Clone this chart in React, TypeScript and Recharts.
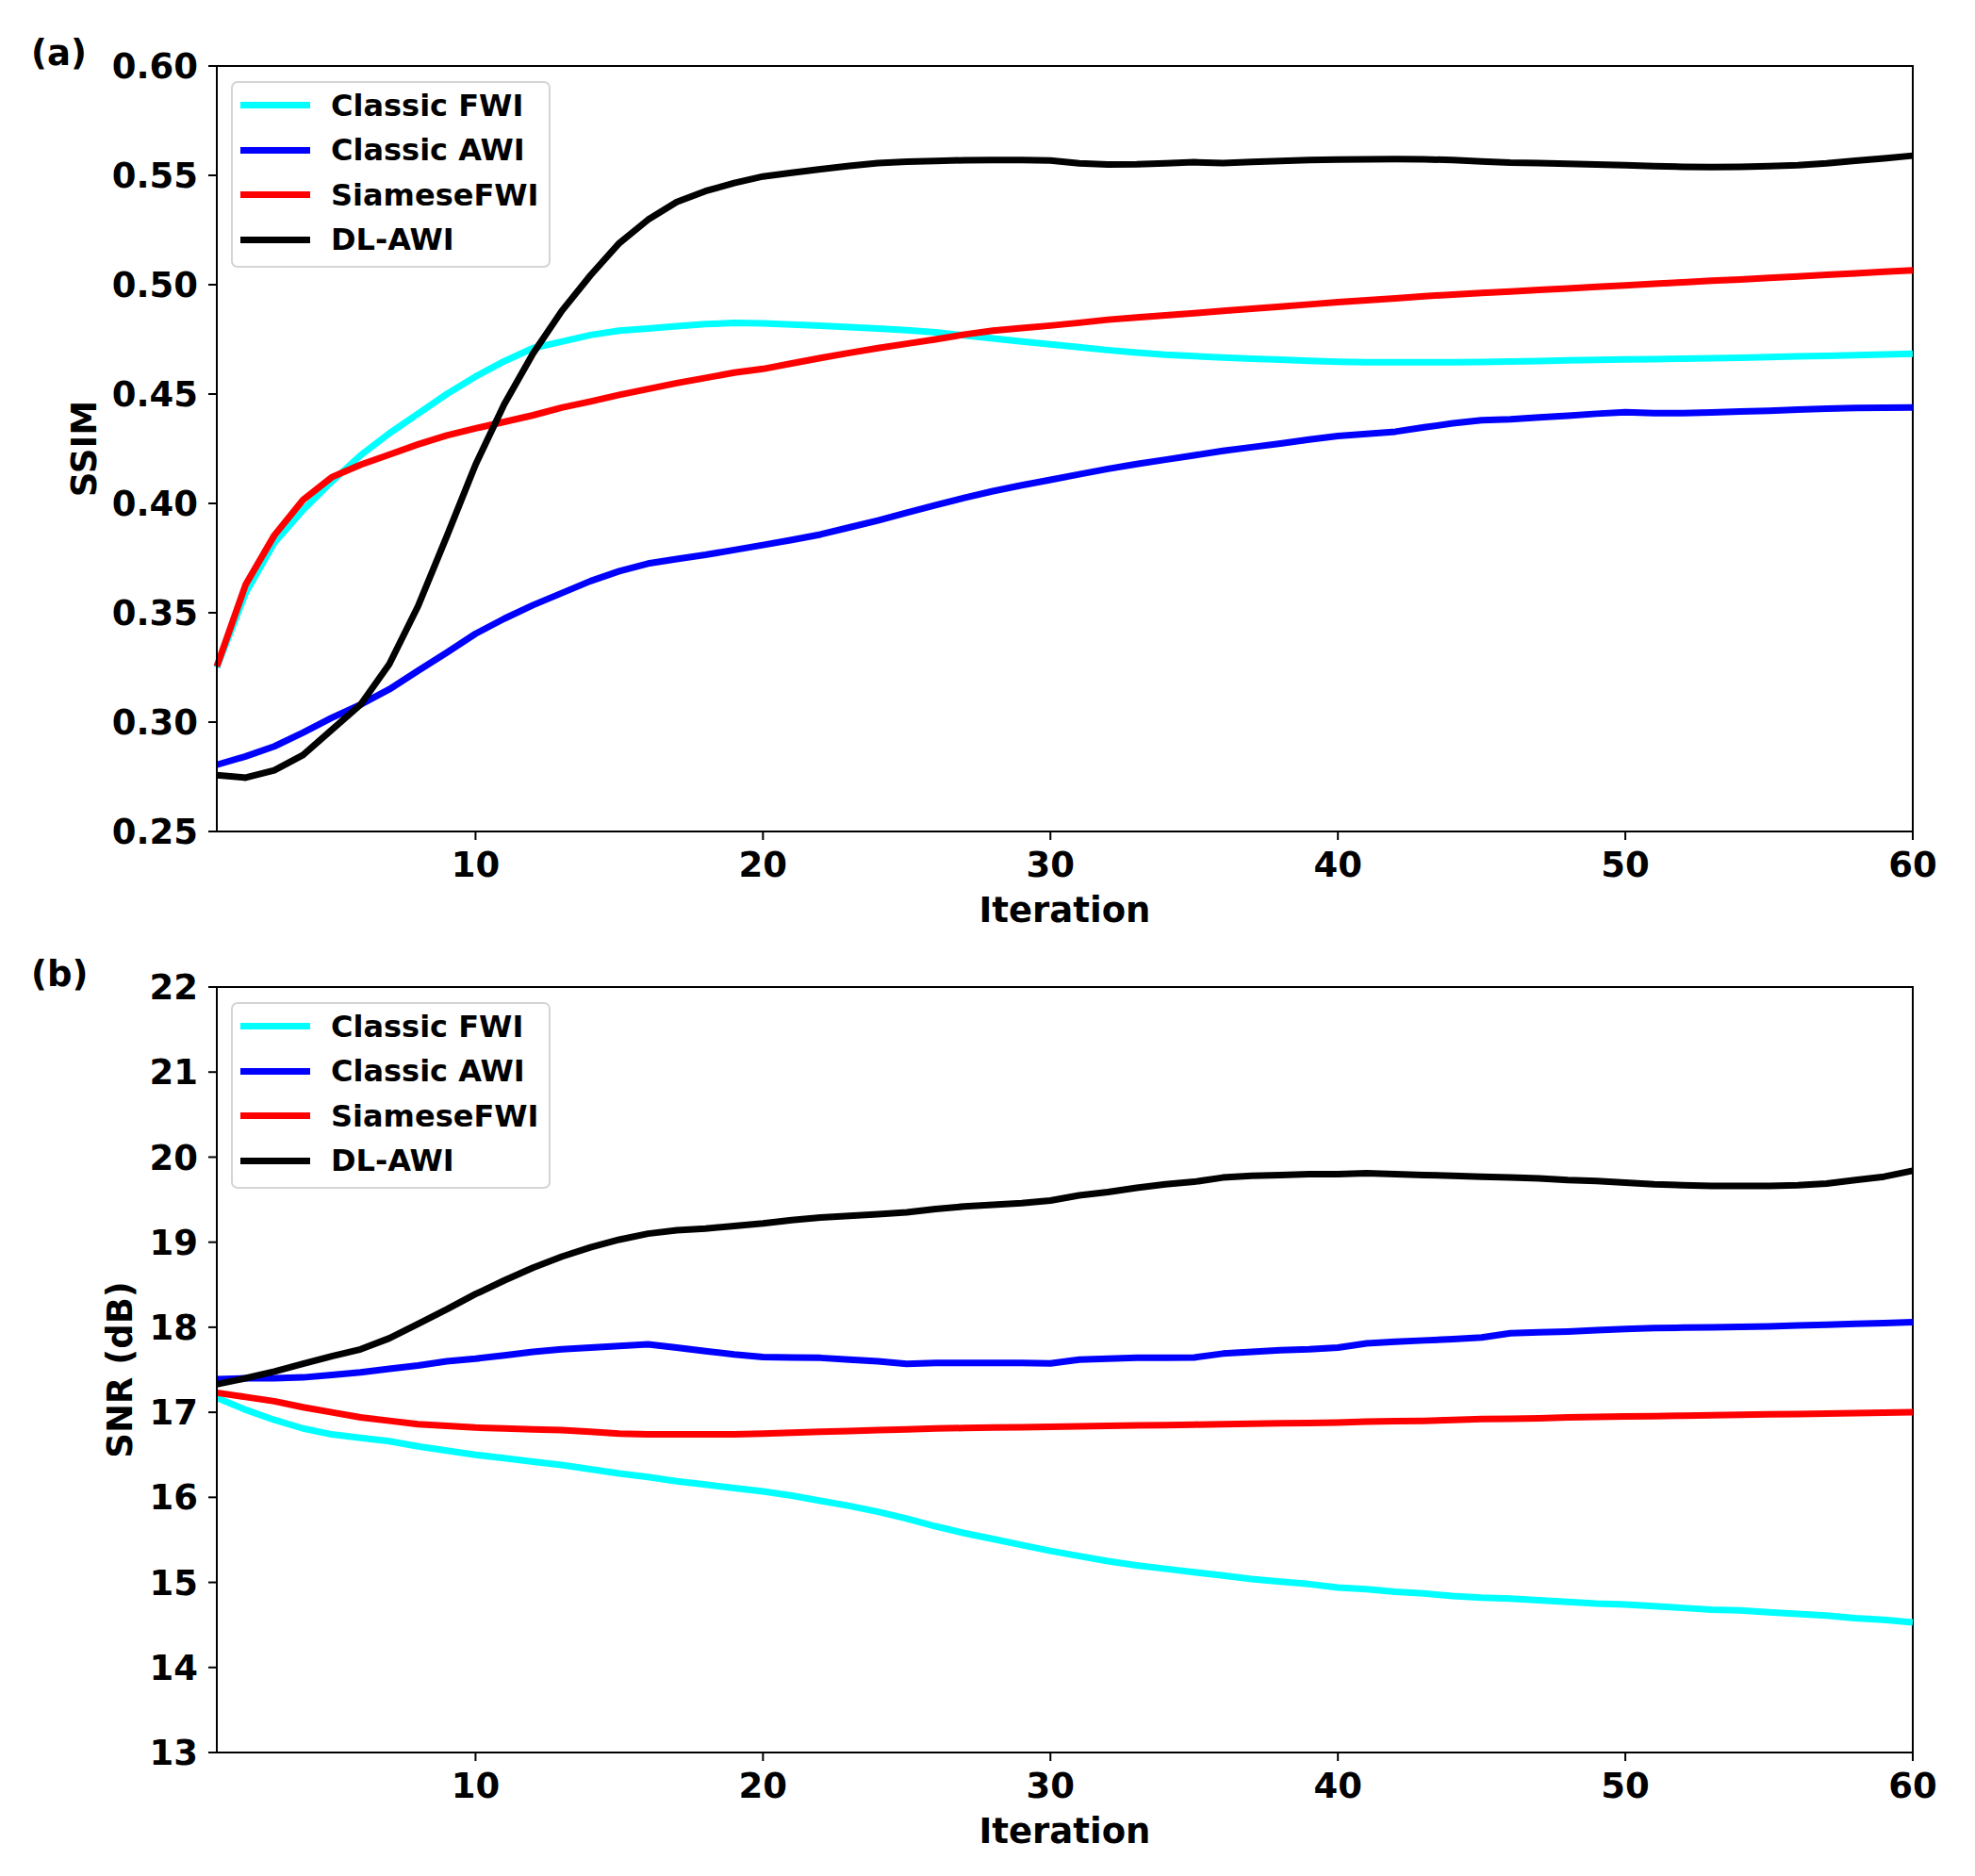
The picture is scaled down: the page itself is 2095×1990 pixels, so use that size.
import React from 'react';
import { LineChart, Line, XAxis, YAxis, Legend, ReferenceArea } from 'recharts';

// iterations on the x axis
const iterations = [
  1, 2, 3, 4, 5, 6, 7, 8, 9, 10, 11, 12, 13, 14, 15, 16, 17, 18, 19, 20,
  21, 22, 23, 24, 25, 26, 27, 28, 29, 30, 31, 32, 33, 34, 35, 36, 37, 38, 39, 40,
  41, 42, 43, 44, 45, 46, 47, 48, 49, 50, 51, 52, 53, 54, 55, 56, 57, 58, 59, 60,
];

// (a) SSIM
const ssimClassicFwi = [
  0.325, 0.359, 0.382, 0.397, 0.410, 0.422, 0.432, 0.441, 0.450, 0.458,
  0.465, 0.471, 0.474, 0.477, 0.479, 0.480, 0.481, 0.482, 0.4825, 0.4823,
  0.4818, 0.4812, 0.4806, 0.480, 0.4792, 0.4782, 0.4768, 0.4754, 0.474, 0.4727,
  0.4714, 0.4701, 0.469, 0.468, 0.4673, 0.4667, 0.4662, 0.4657, 0.4652, 0.4648,
  0.4646, 0.4645, 0.4645, 0.4645, 0.4647, 0.4649, 0.4651, 0.4654, 0.4656, 0.4658,
  0.466, 0.4662, 0.4664, 0.4666, 0.4669, 0.4672, 0.4675, 0.4678, 0.4681, 0.4684,
];
const ssimClassicAwi = [
  0.2805, 0.2843, 0.2889, 0.2952, 0.302, 0.308, 0.315, 0.3235, 0.3318, 0.3404,
  0.3473, 0.3535, 0.359, 0.3645, 0.369, 0.3725, 0.3746, 0.3765, 0.3787, 0.381,
  0.3833, 0.3858, 0.389, 0.3922, 0.3957, 0.3992, 0.4025, 0.4056, 0.4083, 0.4108,
  0.4133, 0.4158, 0.418, 0.42, 0.422, 0.424, 0.4257, 0.4274, 0.4292, 0.4308,
  0.4318, 0.4328, 0.4348, 0.4366, 0.438, 0.4385, 0.4393, 0.4401, 0.441, 0.4417,
  0.4413, 0.4413, 0.4416, 0.442, 0.4424, 0.4429, 0.4433, 0.4436, 0.4437, 0.4439,
];
const ssimSiamese = [
  0.3255, 0.3628, 0.3854, 0.4016, 0.412, 0.4177, 0.4223, 0.427, 0.4311, 0.4343,
  0.4373, 0.4403, 0.4438, 0.4466, 0.4496, 0.4523, 0.455, 0.4574, 0.4598, 0.4615,
  0.464, 0.4665, 0.4688, 0.471, 0.473, 0.475, 0.4772, 0.479, 0.4802, 0.4813,
  0.4826, 0.484, 0.485, 0.486, 0.487, 0.488, 0.489, 0.490, 0.491, 0.492,
  0.4929, 0.4938, 0.4947, 0.4955, 0.4962, 0.4969, 0.4976, 0.4983, 0.499, 0.4997,
  0.5004, 0.5011, 0.5018, 0.5024, 0.5031, 0.5038, 0.5045, 0.5052, 0.5059, 0.5066,
];
const ssimDlAwi = [
  0.2758, 0.2746, 0.278, 0.285, 0.2965, 0.308, 0.3265, 0.353, 0.385, 0.4177,
  0.4454, 0.4685, 0.488, 0.5043, 0.519, 0.5297, 0.5378, 0.5428, 0.5465, 0.5495,
  0.5512, 0.5528, 0.5543, 0.5556, 0.5562, 0.5566, 0.5569, 0.557, 0.557, 0.5568,
  0.5555, 0.555, 0.5551, 0.5555, 0.556, 0.5556, 0.5561, 0.5566, 0.557, 0.5572,
  0.5573, 0.5574, 0.5573, 0.557, 0.5564, 0.5558, 0.5556, 0.5553, 0.555, 0.5546,
  0.5542, 0.5539, 0.5538, 0.5539, 0.5542, 0.5546, 0.5555, 0.5567, 0.5578, 0.559,
];

// (b) SNR (dB)
const snrClassicFwi = [
  17.17, 17.03, 16.91, 16.81, 16.74, 16.70, 16.66, 16.60, 16.55, 16.50,
  16.46, 16.42, 16.38, 16.33, 16.28, 16.24, 16.19, 16.15, 16.11, 16.07,
  16.02, 15.96, 15.90, 15.83, 15.75, 15.66, 15.58, 15.51, 15.44, 15.37,
  15.31, 15.25, 15.20, 15.16, 15.12, 15.08, 15.04, 15.01, 14.98, 14.94,
  14.92, 14.89, 14.87, 14.84, 14.82, 14.81, 14.79, 14.77, 14.75, 14.74,
  14.72, 14.70, 14.68, 14.67, 14.65, 14.63, 14.61, 14.58, 14.56, 14.53,
];
const snrClassicAwi = [
  17.39, 17.40, 17.40, 17.41, 17.44, 17.47, 17.51, 17.55, 17.60, 17.63,
  17.67, 17.71, 17.74, 17.76, 17.78, 17.80, 17.76, 17.72, 17.68, 17.65,
  17.645, 17.64, 17.62, 17.60, 17.57, 17.58, 17.58, 17.58, 17.58, 17.575,
  17.62, 17.63, 17.64, 17.64, 17.645, 17.69, 17.71, 17.73, 17.74, 17.76,
  17.81, 17.83, 17.845, 17.86, 17.88, 17.93, 17.94, 17.95, 17.965, 17.98,
  17.99, 17.995, 18.00, 18.005, 18.01, 18.02, 18.03, 18.04, 18.05, 18.06,
];
const snrSiamese = [
  17.23, 17.18, 17.13, 17.06, 17.00, 16.94, 16.90, 16.86, 16.84, 16.82,
  16.81, 16.80, 16.79, 16.77, 16.75, 16.74, 16.74, 16.74, 16.74, 16.75,
  16.76, 16.77, 16.78, 16.79, 16.80, 16.81, 16.815, 16.82, 16.825, 16.83,
  16.835, 16.84, 16.845, 16.85, 16.855, 16.86, 16.865, 16.87, 16.875, 16.88,
  16.89, 16.895, 16.90, 16.91, 16.92, 16.925, 16.93, 16.94, 16.945, 16.95,
  16.955, 16.96, 16.965, 16.97, 16.975, 16.98, 16.985, 16.99, 16.995, 17.00,
];
const snrDlAwi = [
  17.33, 17.40, 17.48, 17.57, 17.66, 17.74, 17.87, 18.04, 18.21, 18.39,
  18.55, 18.70, 18.83, 18.94, 19.03, 19.10, 19.14, 19.16, 19.19, 19.22,
  19.26, 19.29, 19.31, 19.33, 19.35, 19.39, 19.42, 19.44, 19.46, 19.49,
  19.55, 19.59, 19.64, 19.68, 19.71, 19.76, 19.78, 19.79, 19.80, 19.80,
  19.81, 19.80, 19.79, 19.78, 19.77, 19.76, 19.75, 19.73, 19.72, 19.70,
  19.68, 19.67, 19.66, 19.66, 19.66, 19.67, 19.69, 19.73, 19.77, 19.84,
];

const xTicks = [10, 20, 30, 40, 50, 60];
const ssimTicks = [0.25, 0.3, 0.35, 0.4, 0.45, 0.5, 0.55, 0.6];
const snrTicks = [13, 14, 15, 16, 17, 18, 19, 20, 21, 22];

const seriesNames = ['Classic FWI', 'Classic AWI', 'SiameseFWI', 'DL-AWI'];
const seriesKeys = ['fwi', 'awi', 'siamese', 'dlawi'];
const seriesColors = ['#00ffff', '#0000ff', '#ff0000', '#000000'];

const ssimData = iterations.map((it, i) => ({
  iter: it,
  fwi: ssimClassicFwi[i],
  awi: ssimClassicAwi[i],
  siamese: ssimSiamese[i],
  dlawi: ssimDlAwi[i],
}));

const snrData = iterations.map((it, i) => ({
  iter: it,
  fwi: snrClassicFwi[i],
  awi: snrClassicAwi[i],
  siamese: snrSiamese[i],
  dlawi: snrDlAwi[i],
}));

const FONT = '"DejaVu Sans", "Liberation Sans", sans-serif';
const tickStyle = { fill: '#000', fontSize: 37, fontWeight: 'bold', fontFamily: FONT };

const LegendBox = () => (
  <div
    style={{
      width: 339,
      height: 198,
      boxSizing: 'border-box',
      border: '2px solid #d4d4d4',
      borderRadius: 7,
      background: '#fff',
      fontFamily: FONT,
      fontWeight: 'bold',
      fontSize: 32,
      color: '#000',
    }}
  >
    {seriesNames.map((name, i) => (
      <div key={name} style={{ display: 'flex', alignItems: 'center', height: 47.5 }}>
        <span style={{ display: 'inline-block', width: 74, height: 7, marginLeft: 8, background: seriesColors[i] }} />
        <span style={{ marginLeft: 22, lineHeight: 1 }}>{name}</span>
      </div>
    ))}
  </div>
);

const xLabel = (props: any) => {
  const vb = props.viewBox;
  return (
    <text x={vb.x + vb.width / 2} y={vb.y + 96} textAnchor="middle" style={tickStyle}>
      Iteration
    </text>
  );
};

const yLabel = (text: string, baselineX: number) => (props: any) => {
  const vb = props.viewBox;
  const cy = vb.y + vb.height / 2;
  return (
    <text x={baselineX} y={cy} textAnchor="middle" transform={`rotate(-90, ${baselineX}, ${cy})`} style={tickStyle}>
      {text}
    </text>
  );
};

const Panel = ({ data, ticks, domain, yName, labelX, fmt }: any) => (
  <LineChart width={2095} height={1000} data={data} margin={{ top: 70, right: 66, left: 0, bottom: 0 }}>
    <ReferenceArea
      x1={1}
      x2={60}
      y1={domain[0]}
      y2={domain[1]}
      fill="none"
      fillOpacity={0}
      stroke="#000"
      strokeWidth={2}
    />
    <XAxis
      dataKey="iter"
      type="number"
      domain={[1, 60]}
      ticks={xTicks}
      height={118}
      tick={tickStyle}
      tickSize={9}
      tickMargin={13}
      axisLine={{ stroke: '#000', strokeWidth: 2 }}
      tickLine={{ stroke: '#000', strokeWidth: 2 }}
      label={{ content: xLabel }}
    />
    <YAxis
      type="number"
      domain={domain}
      ticks={ticks}
      width={230}
      tick={tickStyle}
      tickSize={9}
      tickMargin={11}
      tickFormatter={fmt}
      axisLine={{ stroke: '#000', strokeWidth: 2 }}
      tickLine={{ stroke: '#000', strokeWidth: 2 }}
      label={{ content: yLabel(yName, labelX) }}
    />
    <Legend
      layout="vertical"
      align="center"
      verticalAlign="middle"
      content={LegendBox}
      wrapperStyle={{ left: 245, top: 86, width: 339, height: 198 }}
    />
    {seriesKeys.map((k, i) => (
      <Line
        key={k}
        type="linear"
        dataKey={k}
        name={seriesNames[i]}
        stroke={seriesColors[i]}
        strokeWidth={7}
        strokeLinejoin="round"
        dot={false}
        activeDot={false}
        isAnimationActive={false}
      />
    ))}
  </LineChart>
);

export default function App() {
  return (
    <div style={{ position: 'absolute', left: 0, top: 0, width: 2095, height: 1990, background: '#fff' }}>
      <div style={{ position: 'absolute', left: 0, top: 0 }}>
        <Panel
          data={ssimData}
          ticks={ssimTicks}
          domain={[0.25, 0.6]}
          yName="SSIM"
          labelX={102}
          fmt={(v: number) => v.toFixed(2)}
        />
      </div>
      <div style={{ position: 'absolute', left: 0, top: 977 }}>
        <Panel
          data={snrData}
          ticks={snrTicks}
          domain={[13, 22]}
          yName="SNR (dB)"
          labelX={140}
          fmt={(v: number) => String(v)}
        />
      </div>
      <svg width={2095} height={1990} style={{ position: 'absolute', left: 0, top: 0, pointerEvents: 'none' }}>
        <text x={33} y={69} style={tickStyle}>(a)</text>
        <text x={33} y={1046} style={tickStyle}>(b)</text>
      </svg>
    </div>
  );
}
